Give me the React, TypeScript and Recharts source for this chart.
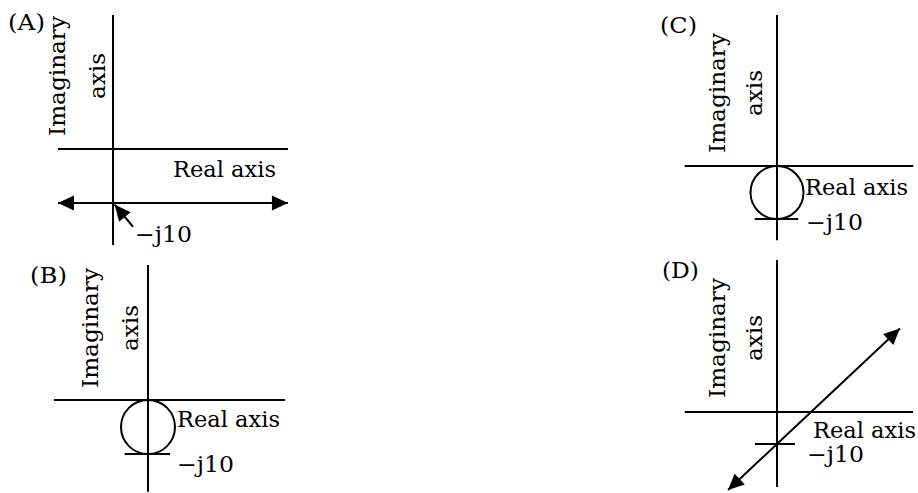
import React from 'react'
import { ComposedChart, Line, XAxis, YAxis, ReferenceLine, ReferenceDot, Customized } from 'recharts'

// four root-locus sketches, values in s-plane units (re, im)
const panelNames = ['(A)', '(B)', '(C)', '(D)']
const realAxisSpan = [[-10.2, 32.4], [-17.4, 25.4], [-17.4, 25.7], [-28.8, 42.5]]
const imagAxisSpan = [[-17.8, 24.8], [-17, 25], [-14, 28.5], [-23.4, 47.5]]
const markValue = -10 // the -j10 point
const markLabel = '\u2212j10'
const tickSpan: (number[] | null)[] = [null, [-4.3, 4.1], [-4.2, 4], [-6.9, 5.6]]

const locusA = [{ re: -10.2, im: -10 }, { re: 32.4, im: -10 }]
const pointerA = [{ re: 3.7, im: -14.4 }, { re: 0.3, im: -10.3 }]
const circleCenter = -5
const circleRadius = 5
const locusD = [{ re: -15.3, im: -24.4 }, { re: 0, im: -10 }, { re: 38.4, im: 26.1 }]

// page layout (px)
const layout = [
  { left: 0, top: 0, width: 320, height: 250, ox: 113, oy: 149, unit: 5.4 },
  { left: 0, top: 250, width: 320, height: 243, ox: 148, oy: 400, unit: 5.4 },
  { left: 640, top: 0, width: 278, height: 250, ox: 777, oy: 166, unit: 5.3 },
  { left: 640, top: 250, width: 278, height: 243, ox: 777, oy: 412, unit: 3.2 },
]
const textPos = [
  { name: [8, 30], imag: [65, 105, 76], real: [173, 177], mark: [135, 242] },
  { name: [30, 283], imag: [98, 138, 328], real: [177, 427], mark: [177, 472] },
  { name: [660, 33], imag: [725, 762, 93], real: [805, 195], mark: [806, 230] },
  { name: [662, 278], imag: [725, 762, 338], real: [813, 438], mark: [807, 462] },
]
// rendered text widths in the reference (px)
const textWidth = { name: 37, imag: 120, axis: 46, real: 103, mark: 57 }

const FONT = '"DejaVu Serif", serif'
const INK = '#000'

type Pt = { re: number; im: number }

const arrowDot = (pts: Pt[], unit: number, both: boolean) => (props: any) => {
  const { cx, cy, index } = props
  const n = pts.length
  let from = -1
  if (index === n - 1) from = n - 2
  else if (index === 0 && both) from = 1
  if (from < 0 || cx == null) return <g key={index} />
  const dx = (pts[index].re - pts[from].re) * unit
  const dy = -(pts[index].im - pts[from].im) * unit
  const ang = (Math.atan2(dy, dx) * 180) / Math.PI
  return (
    <polygon
      key={index}
      points="0,0 -16,-7.5 -16,7.5"
      transform={`translate(${cx},${cy}) rotate(${ang})`}
      fill={INK}
    />
  )
}

function PanelText({ i }: { i: number }) {
  const L = layout[i]
  const t = textPos[i]
  const px = (x: number) => x - L.left
  const py = (y: number) => y - L.top
  const style = { fontFamily: FONT, fontSize: 22, fill: INK }
  const fit = (w: number) => ({ textLength: w, lengthAdjust: 'spacingAndGlyphs' as const })
  return (
    <g>
      <text x={px(t.name[0])} y={py(t.name[1])} style={style} {...fit(textWidth.name)}>
        {panelNames[i]}
      </text>
      <text
        x={px(t.imag[0])}
        y={py(t.imag[2])}
        textAnchor="middle"
        transform={`rotate(-90, ${px(t.imag[0])}, ${py(t.imag[2])})`}
        style={style}
        {...fit(textWidth.imag)}
      >
        Imaginary
      </text>
      <text
        x={px(t.imag[1])}
        y={py(t.imag[2])}
        textAnchor="middle"
        transform={`rotate(-90, ${px(t.imag[1])}, ${py(t.imag[2])})`}
        style={style}
        {...fit(textWidth.axis)}
      >
        axis
      </text>
      <text x={px(t.real[0])} y={py(t.real[1])} style={style} {...fit(textWidth.real)}>
        Real axis
      </text>
      <text x={px(t.mark[0])} y={py(t.mark[1])} style={style} {...fit(textWidth.mark)}>
        {markLabel}
      </text>
    </g>
  )
}

function Panel({ i }: { i: number }) {
  const L = layout[i]
  const xDomain = [(L.left - L.ox) / L.unit, (L.left + L.width - L.ox) / L.unit]
  const yDomain = [(L.oy - L.top - L.height) / L.unit, (L.oy - L.top) / L.unit]
  const re = realAxisSpan[i]
  const im = imagAxisSpan[i]
  const tick = tickSpan[i]
  const lineProps = { stroke: INK, strokeWidth: 2, isAnimationActive: false, activeDot: false as const }

  return (
    <div style={{ position: 'absolute', left: L.left, top: L.top }}>
      <ComposedChart width={L.width} height={L.height} margin={{ top: 0, right: 0, bottom: 0, left: 0 }}>
        <XAxis type="number" dataKey="re" domain={xDomain} allowDataOverflow hide />
        <YAxis type="number" dataKey="im" domain={yDomain} allowDataOverflow hide />
        <ReferenceLine segment={[{ x: re[0], y: 0 }, { x: re[1], y: 0 }]} stroke={INK} strokeWidth={2} />
        <ReferenceLine segment={[{ x: 0, y: im[0] }, { x: 0, y: im[1] }]} stroke={INK} strokeWidth={2} />
        {tick && (
          <ReferenceLine
            segment={[{ x: tick[0], y: markValue }, { x: tick[1], y: markValue }]}
            stroke={INK}
            strokeWidth={2}
          />
        )}
        {(i === 1 || i === 2) && (
          <ReferenceDot
            x={0}
            y={circleCenter}
            r={circleRadius * L.unit}
            fill="none"
            stroke={INK}
            strokeWidth={2}
          />
        )}
        {i === 0 && (
          <Line data={locusA} dataKey="im" {...lineProps} dot={arrowDot(locusA, L.unit, true)} />
        )}
        {i === 0 && (
          <Line data={pointerA} dataKey="im" {...lineProps} dot={arrowDot(pointerA, L.unit, false)} />
        )}
        {i === 3 && (
          <Line data={locusD} dataKey="im" {...lineProps} dot={arrowDot(locusD, L.unit, true)} />
        )}
        <Customized component={<PanelText i={i} />} />
      </ComposedChart>
    </div>
  )
}

export default function App() {
  return (
    <div style={{ position: 'absolute', left: 0, top: 0, width: 918, height: 493, background: '#fff', overflow: 'hidden' }}>
      {layout.map((_, i) => (
        <Panel key={i} i={i} />
      ))}
    </div>
  )
}
